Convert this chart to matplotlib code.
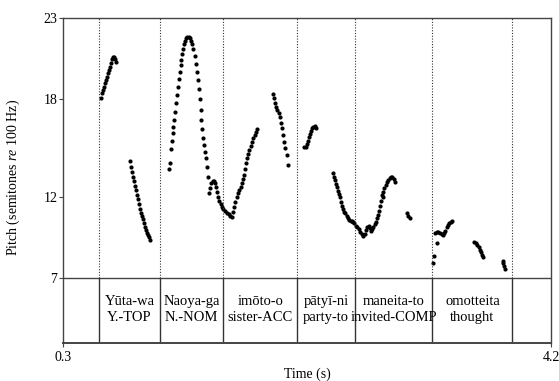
import matplotlib
matplotlib.use("Agg")
import matplotlib.pyplot as plt

plt.rcParams["font.family"] = ["Liberation Serif", "DejaVu Serif"]
plt.rcParams["mathtext.fontset"] = "custom"
plt.rcParams["mathtext.rm"] = "Liberation Serif"
plt.rcParams["mathtext.it"] = "Liberation Serif:italic"

# pitch track (time in s, pitch in semitones re 100 Hz)
time = [
    # Yuta-wa rise
    0.604, 0.612, 0.620, 0.628, 0.636, 0.644, 0.652, 0.660, 0.668, 0.676,
    0.681, 0.689, 0.697, 0.708, 0.716, 0.721,
    # Yuta-wa fall
    0.835, 0.843, 0.851, 0.859, 0.867, 0.875, 0.883, 0.891, 0.899, 0.907,
    0.915, 0.923, 0.934, 0.942, 0.947, 0.955, 0.963, 0.971, 0.979, 0.987,
    0.995,
    # Naoya-ga arch
    1.145, 1.155, 1.163, 1.171, 1.177, 1.182, 1.190, 1.198, 1.203, 1.211,
    1.217, 1.225, 1.233, 1.241, 1.245, 1.253, 1.261, 1.267, 1.275, 1.283,
    1.293, 1.304, 1.315, 1.323, 1.331, 1.341, 1.353, 1.361, 1.369, 1.377,
    1.387, 1.395, 1.401, 1.405, 1.413, 1.421, 1.429, 1.437, 1.443, 1.451,
    1.456,
    1.467, 1.475, 1.485, 1.496, 1.507, 1.517, 1.525, 1.533, 1.541, 1.549,
    1.561, 1.571, 1.582, 1.596, 1.609, 1.623, 1.636, 1.647,
    # imoto-o rise
    1.656, 1.667, 1.677, 1.688, 1.699, 1.709, 1.720, 1.728, 1.736, 1.744,
    1.752, 1.760, 1.768, 1.779, 1.789, 1.800, 1.811, 1.821, 1.832, 1.843,
    1.853,
    # imoto-o fall
    1.981, 1.989, 1.997, 2.005, 2.013, 2.024, 2.034, 2.042, 2.050, 2.061,
    2.069, 2.077, 2.088, 2.096,
    # patyi-ni
    2.226, 2.242, 2.252, 2.260, 2.268, 2.276, 2.284, 2.292, 2.300, 2.311,
    2.322,
    2.461, 2.469, 2.477, 2.485, 2.493, 2.501, 2.509, 2.517, 2.525, 2.533,
    2.541, 2.549, 2.557, 2.567, 2.578, 2.589, 2.599, 2.610, 2.621,
    # maneita-to
    2.626, 2.642, 2.652, 2.663, 2.674, 2.687, 2.700, 2.711, 2.722, 2.732,
    2.743, 2.754, 2.762, 2.772, 2.780, 2.791, 2.799, 2.807, 2.815, 2.823,
    2.831, 2.839, 2.847, 2.855, 2.860, 2.868, 2.879, 2.889, 2.900, 2.911,
    2.921, 2.932, 2.943, 2.953,
    3.047, 3.060, 3.073,
    # omotteita
    3.260, 3.265, 3.287, 3.276, 3.287, 3.300, 3.313, 3.327, 3.340, 3.348,
    3.356, 3.367, 3.377, 3.388, 3.399, 3.412,
    3.587, 3.601, 3.611, 3.622, 3.633, 3.641, 3.649, 3.657,
    3.814, 3.819, 3.824, 3.832,
]
pitch = [
    18.09, 18.37, 18.57, 18.77, 18.98, 19.18, 19.39, 19.60, 19.80, 20.00,
    20.21, 20.46, 20.62, 20.58, 20.46, 20.27,
    14.22, 13.85, 13.54, 13.23, 12.95, 12.68, 12.42, 12.11, 11.84, 11.55,
    11.27, 11.02, 10.82, 10.65, 10.40, 10.16, 9.95, 9.79, 9.65, 9.54,
    9.34,
    13.69, 14.06, 14.92, 15.45, 15.90, 16.31, 16.72, 17.23, 17.75, 18.26,
    18.77, 19.23, 19.70, 20.11, 20.42, 20.78, 21.07, 21.40, 21.60, 21.75,
    21.81, 21.81, 21.75, 21.60, 21.40, 21.07, 20.66, 20.17, 19.70, 19.18,
    18.61, 18.00, 17.34, 16.72, 16.15, 15.63, 15.18, 14.77, 14.40, 13.81,
    13.23,
    12.25, 12.56, 12.83, 12.95, 12.95, 12.83, 12.62, 12.31, 12.00, 11.76,
    11.55, 11.39, 11.25, 11.12, 11.02, 10.94, 10.83, 10.74,
    11.08, 11.39, 11.70, 11.97, 12.21, 12.42, 12.62, 12.83, 13.07, 13.34,
    13.69, 14.06, 14.37, 14.63, 14.88, 15.12, 15.37, 15.60, 15.80, 16.00,
    16.15,
    18.32, 18.06, 17.79, 17.54, 17.34, 17.14, 16.93, 16.56, 16.21, 15.80,
    15.39, 14.98, 14.57, 13.95,
    15.04, 15.08, 15.25, 15.45, 15.66, 15.86, 16.07, 16.21, 16.31, 16.35,
    16.25,
    13.44, 13.24, 13.03, 12.78, 12.58, 12.37, 12.17, 11.97, 11.70, 11.43,
    11.23, 11.08, 10.98, 10.82, 10.67, 10.57, 10.53, 10.49, 10.47,
    10.37, 10.20, 10.12, 10.00, 9.85, 9.71, 9.58, 9.71, 9.95, 10.16,
    10.20, 10.06, 9.91, 10.00, 10.16, 10.32, 10.47, 10.67, 10.88, 11.14,
    11.43, 11.76, 12.11, 12.00, 12.31, 12.52, 12.72, 12.89, 13.03, 13.15,
    13.23, 13.20, 13.07, 12.89,
    10.98, 10.82, 10.67,
    7.90, 8.35, 9.14, 9.75, 9.83, 9.81, 9.75, 9.69, 9.67, 9.75,
    9.91, 10.12, 10.28, 10.37, 10.45, 10.51,
    9.23, 9.17, 9.03, 8.89, 8.72, 8.58, 8.42, 8.27,
    8.07, 7.90, 7.74, 7.57,
]

# word boundaries (s) and glosses
boundaries = [0.585, 1.075, 1.581, 2.173, 2.632, 3.252, 3.892]
words = ["Yūta-wa", "Naoya-ga", "imōto-o", "pātyī-ni", "maneita-to", "omotteita"]
glosses = ["Y.-TOP", "N.-NOM", "sister-ACC", "party-to", "invited-COMP", "thought"]

yticks = [7, 12, 18, 23]
xticks = [0.3, 4.2]

fig = plt.figure(figsize=(5.59, 3.81), dpi=100)
ax = fig.add_axes([0.1127, 0.0997, 0.873, 0.8531])

ax.plot(time, pitch, "o", color="black", markersize=3, markeredgewidth=0)

# text tier below pitch 7
ax.axhline(7, color="#444444", lw=1.0)
for b in boundaries:
    ax.plot([b, b], [7, 23], color="#333333", lw=0.8, ls=(0, (1, 1.5)))
    ax.plot([b, b], [3, 7], color="#333333", lw=1.0)
for i in range(len(words)):
    xc = (boundaries[i] + boundaries[i + 1]) / 2
    ax.text(xc, 5.55, words[i], ha="center", va="center", fontsize=10.5)
    ax.text(xc, 4.55, glosses[i], ha="center", va="center", fontsize=10.5)

ax.set_xlim(0.3, 4.2)
ax.set_ylim(3, 23)
ax.set_yticks(yticks)
ax.set_yticklabels([str(v) for v in yticks])
ax.set_xticks(xticks)
ax.set_xticklabels(["0.3", "4.2"])
ax.tick_params(axis="both", labelsize=10, length=3, width=0.8, color="#444444")
ax.tick_params(axis="y", pad=1)
ax.tick_params(axis="x", pad=3)
for s in ax.spines.values():
    s.set_color("#444444")
    s.set_linewidth(1.0)
ax.spines["bottom"].set_linewidth(1.4)

ax.set_xlabel("Time (s)", fontsize=10, labelpad=2)
ax.set_ylabel("Pitch (semitones $\\mathit{re}$ 100 Hz)", fontsize=10)
ax.yaxis.set_label_coords(-0.085, 0.51)

fig.savefig("out.png", dpi=100)
